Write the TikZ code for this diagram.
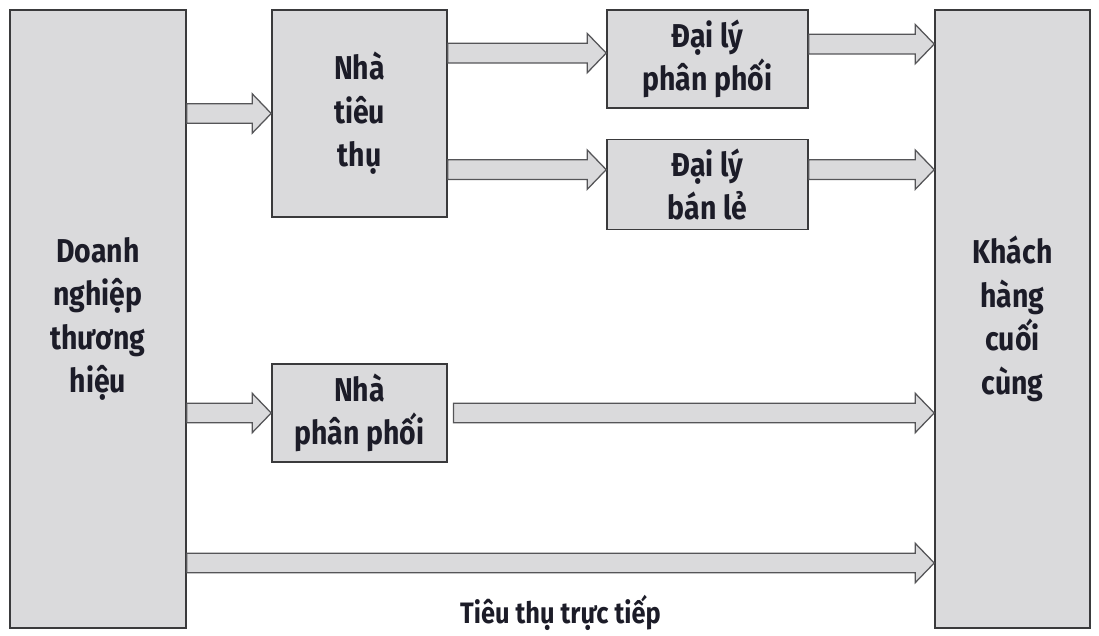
\documentclass[tikz,border=0pt]{standalone}
\usepackage{fontspec}
\setmainfont{Fira Sans}[FakeStretch=0.86]
\usetikzlibrary{positioning, calc}

\definecolor{boxfill}{RGB}{218,218,220}
\definecolor{boxline}{RGB}{58,58,60}
\definecolor{arrowline}{RGB}{85,85,88}
\definecolor{inktext}{RGB}{28,28,40}

% wide hollow arrow between two anchors (horizontal)
\newcommand{\fatarrow}[2]{%
  \draw[fatline] let \p1=(#1), \p2=(#2) in
    (\x1,\y1+7pt) -- (\x2-13.5pt,\y1+7pt) -- (\x2-13.5pt,\y1+14pt) -- (\x2,\y1)
    -- (\x2-13.5pt,\y1-14pt) -- (\x2-13.5pt,\y1-7pt) -- (\x1,\y1-7pt) -- cycle;}

\begin{document}
\begin{tikzpicture}[x=0.025cm, y=-0.025cm]

	% Define styles
	\tikzstyle{block} = [rectangle, draw=boxline, line width=1.1pt, fill=boxfill, text=inktext, align=center, font=\bfseries\fontsize{23.5}{31}\selectfont, inner sep=0pt]
	\tikzstyle{fatline} = [draw=arrowline, line width=0.9pt, fill=boxfill, line join=miter]

	\useasboundingbox (0,0) rectangle (1099,636);

	% Nodes
	\node[block, minimum width=4.4cm, minimum height=15.45cm] (brand) at (98,319) {Doanh\\nghiệp\\thương\\hiệu};
	\node[block, minimum width=4.375cm, minimum height=5.175cm] (consumer) at (359.5,113.5) {Nhà\\tiêu\\thụ};
	\node[block, minimum width=5.025cm, minimum height=2.45cm] (wholesale) at (707.5,59) {Đại lý\\phân phối};
	\node[block, minimum width=5.025cm, minimum height=2.25cm, below=0.75cm of wholesale] (retail) {Đại lý\\bán lẻ};
	\node[block, minimum width=4.375cm, minimum height=2.45cm] (distributor) at (359.5,413) {Nhà\\phân phối};
	\node[block, minimum width=3.875cm, minimum height=15.45cm] (customer) at (1012.5,319) {Khách\\hàng\\cuối\\cùng};

	% Arrows
	\fatarrow{brand.east |- consumer.west}{consumer.west}
	\fatarrow{$(consumer.east |- wholesale.west)+(0,4.2pt)$}{$(wholesale.west)+(0,4.2pt)$}
	\fatarrow{$(consumer.east |- retail.west)+(0,10.6pt)$}{$(retail.west)+(0,10.6pt)$}
	\fatarrow{$(wholesale.east)+(0,10.6pt)$}{$(customer.west |- wholesale.east)+(0,10.6pt)$}
	\fatarrow{$(retail.east)+(0,10.6pt)$}{$(customer.west |- retail.east)+(0,10.6pt)$}
	\fatarrow{brand.east |- distributor.west}{distributor.west}
	\fatarrow{$(distributor.east)+(4pt,0)$}{customer.west |- distributor.east}
	\coordinate (direct) at (0,563);
	\fatarrow{brand.east |- direct}{customer.west |- direct}

	% Labels
	\node[text=inktext, font=\bfseries\fontsize{21}{24}\selectfont, below=0.68cm of direct -| {$(brand.east)!0.5!(customer.west)$}] (directlabel) {Tiêu thụ trực tiếp};

\end{tikzpicture}
\end{document}
